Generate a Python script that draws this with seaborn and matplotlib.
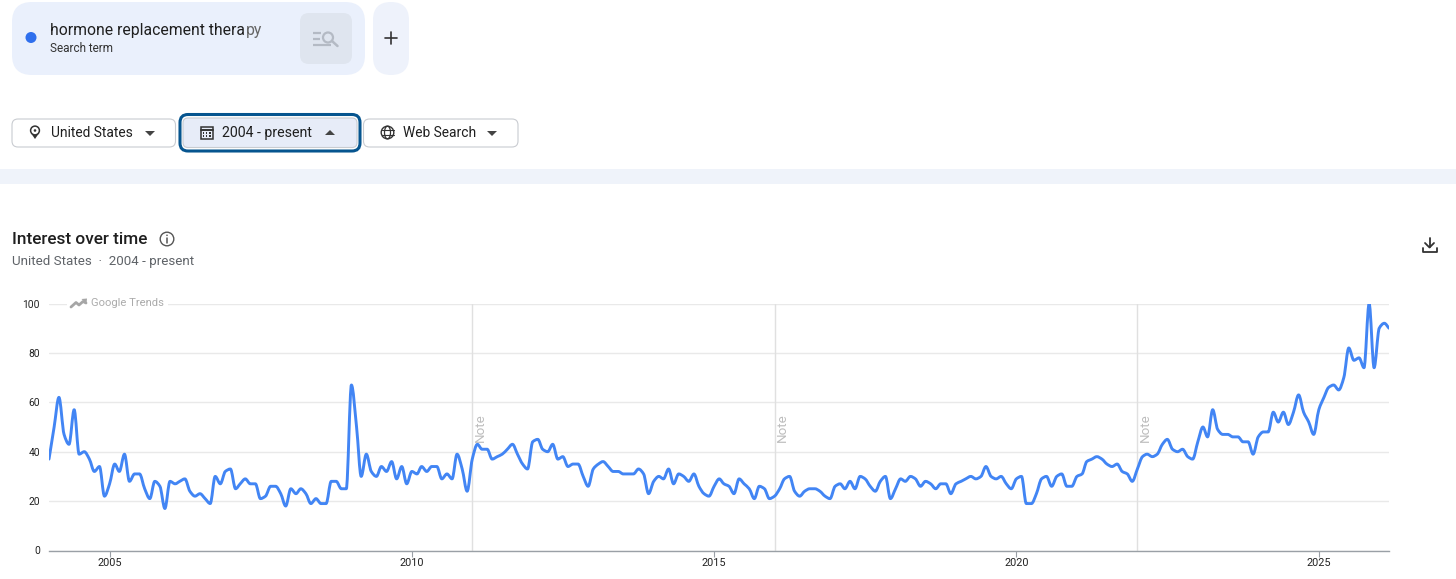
import numpy as np
import pandas as pd
import matplotlib.pyplot as plt
import seaborn as sns
from matplotlib.path import Path
from matplotlib.patches import FancyBboxPatch, Circle, Rectangle, Polygon, Ellipse, PathPatch

# ── Data, monthly values ──
v2004 = [37, 50, 62, 47, 43, 57, 39, 40, 37, 32, 34, 22]
v2005 = [27, 35, 32, 39, 28, 31, 31, 25, 21, 28, 26, 17]
v2006 = [28, 27, 28, 29, 24, 22, 23, 21, 19, 30, 27, 32]
v2007 = [33, 25, 27, 29, 27, 27, 21, 22, 26, 26, 23, 18]
v2008 = [25, 23, 25, 23, 19, 21, 19, 19, 28, 28, 25, 25]
v2009 = [67, 50, 30, 39, 32, 30, 34, 32, 36, 29, 34, 27]
v2010 = [32, 31, 34, 32, 34, 34, 29, 31, 29, 39, 33, 24]
v2011 = [37, 43, 41, 41, 37, 38, 39, 41, 43, 39, 35, 33]
v2012 = [44, 45, 41, 40, 43, 37, 38, 34, 35, 35, 30, 26]
v2013 = [33, 35, 36, 34, 32, 32, 31, 31, 31, 33, 31, 23]
v2014 = [28, 30, 29, 33, 27, 31, 30, 28, 31, 26, 23, 22]
v2015 = [26, 29, 27, 26, 23, 29, 27, 25, 21, 26, 25, 21]
v2016 = [22, 25, 29, 30, 24, 22, 24, 25, 25, 24, 22, 21]
v2017 = [26, 27, 25, 28, 25, 30, 29, 26, 24, 28, 30, 21]
v2018 = [25, 29, 28, 30, 29, 26, 28, 27, 25, 27, 27, 23]
v2019 = [27, 28, 29, 30, 29, 30, 34, 30, 29, 30, 27, 25]
v2020 = [29, 30, 19, 19, 23, 29, 30, 26, 30, 31, 26, 26]
v2021 = [30, 31, 36, 37, 38, 37, 35, 34, 35, 32, 31, 28]
v2022 = [33, 38, 39, 38, 39, 43, 45, 41, 40, 41, 38, 37]
v2023 = [44, 50, 46, 57, 49, 47, 47, 46, 46, 44, 44, 39]
v2024 = [46, 48, 48, 56, 52, 56, 51, 56, 63, 56, 52, 47]
v2025 = [57, 62, 66, 67, 65, 70, 82, 77, 78, 74, 100, 74]
v2026 = [90, 92, 90]

values = (v2004 + v2005 + v2006 + v2007 + v2008 + v2009 + v2010 + v2011
          + v2012 + v2013 + v2014 + v2015 + v2016 + v2017 + v2018 + v2019
          + v2020 + v2021 + v2022 + v2023 + v2024 + v2025 + v2026)
dates = pd.date_range('2004-01-01', periods=len(values), freq='MS')
df = pd.DataFrame({'date': dates, 'interest': values})

year_ticks = ['2005', '2010', '2015', '2020', '2025']
note_years = ['2011', '2016', '2022']
y_ticks = [0, 20, 40, 60, 80, 100]

W, H = 1456, 579
BLUE = '#4285F4'
GRID = '#E9E9E9'
DARK = '#1F1F1F'
GREY = '#5F6368'
CHIP = '#C9CCD1'

sns.set_theme(style='white')
plt.rcParams['font.family'] = ['Roboto', 'DejaVu Sans']

fig = plt.figure(figsize=(W / 100, H / 100), dpi=100, facecolor='white')

# ── Chart area ───────────────────────────────
ax = fig.add_axes([49 / W, 1 - 550.5 / H, (1389 - 49) / W, 247 / H])
sns.lineplot(data=df, x='date', y='interest', color=BLUE, linewidth=2.1, ax=ax, zorder=5)


# the trends line is rounded between months, so redraw seaborn's line as a
# monotone bezier going through exactly the same points
def smooth_path(xy):
    x, y = xy[:, 0], xy[:, 1]
    h = np.diff(x)
    s = np.diff(y) / h
    m = np.zeros(len(y))
    for i in range(1, len(y) - 1):
        if s[i - 1] * s[i] > 0:
            m[i] = 2 * s[i - 1] * s[i] / (s[i - 1] + s[i])
    m[0], m[-1] = s[0], s[-1]
    verts = [(x[0], y[0])]
    codes = [Path.MOVETO]
    for i in range(len(h)):
        verts += [(x[i] + h[i] / 3, y[i] + m[i] * h[i] / 3),
                  (x[i + 1] - h[i] / 3, y[i + 1] - m[i + 1] * h[i] / 3),
                  (x[i + 1], y[i + 1])]
        codes += [Path.CURVE4] * 3
    return Path(verts, codes)


base_line = ax.lines[0]
ax.add_patch(PathPatch(smooth_path(base_line.get_xydata()), fc='none', ec=BLUE, lw=2.1,
                       capstyle='round', joinstyle='round', zorder=5))
base_line.set_visible(False)

ax.set_xlim(dates[0], dates[-1])
ax.set_ylim(0, 100)
ax.set_xlabel('')
ax.set_ylabel('')
sns.despine(ax=ax, left=True, top=True, right=True)
ax.spines['bottom'].set_color('#9AA0A6')
ax.spines['bottom'].set_linewidth(1.0)

ax.set_yticks(y_ticks)
ax.yaxis.grid(True, color=GRID, linewidth=1.0)
ax.set_axisbelow(True)
ax.tick_params(axis='y', length=0, pad=6.5, labelsize=7.4, labelcolor='#222222')
ax.set_xticks(pd.to_datetime(year_ticks))
ax.set_xticklabels(year_ticks)
ax.tick_params(axis='x', length=4, width=0.8, color='#9AA0A6', pad=1.5,
               labelsize=7.8, labelcolor='#222222', bottom=True)

for yr in note_years:
    d = pd.Timestamp(yr + '-01-01')
    ax.axvline(d, color='#E0E0E0', linewidth=1.0, zorder=1)

# ── Overlay in pixel coordinates for the page furniture ──
ui = fig.add_axes([0, 0, 1, 1], zorder=10)
ui.set_xlim(0, W)
ui.set_ylim(H, 0)
ui.axis('off')
ui.patch.set_alpha(0)


def pill(x0, y0, x1, y1, r, fc, ec='none', lw=1.0, z=2):
    ui.add_patch(FancyBboxPatch((x0 + r, y0 + r), x1 - x0 - 2 * r, y1 - y0 - 2 * r,
                                boxstyle=f'round,pad={r},rounding_size={r}',
                                fc=fc, ec=ec, lw=lw, zorder=z))


# search term card
pill(12, 2, 365, 75, 20, '#EAF0FC')
ui.add_patch(Circle((31, 37.5), 5.5, fc='#2F6FED', ec='none', zorder=3))
ui.text(50, 31, 'hormone replacement thera', fontsize=11.3, color=DARK, va='center')
ui.text(246, 31, 'py', fontsize=11.3, color='#666666', va='center')
ui.text(50, 49, 'Search term', fontsize=8.5, color='#333333', va='center')
pill(300, 13, 352, 64, 9, '#DFE5EF', z=3)
for y_, x1_ in [(33, 321), (38.5, 320), (45, 331)]:
    ui.plot([313, x1_], [y_, y_], color='#B4BAC4', lw=1.6, zorder=4, solid_capstyle='butt')
ui.add_patch(Circle((328, 37.5), 5, fc='none', ec='#B4BAC4', lw=1.6, zorder=4))
ui.plot([332, 337.5], [41, 46], color='#B4BAC4', lw=1.8, zorder=4)

# add button
pill(373, 2, 409, 75, 18, '#EEF2FB')
ui.plot([385, 397], [38, 38], color='#333333', lw=1.2, zorder=4)
ui.plot([391, 391], [32, 44], color='#333333', lw=1.2, zorder=4)

# filter chips
pill(12, 119, 175.5, 147, 6, 'white', CHIP, lw=0.8)
ui.add_patch(Polygon([[31.2, 133.5], [38.8, 133.5], [35, 139]], fc='#333333', ec='none', zorder=3))
ui.add_patch(Circle((35, 130.5), 4.4, fc='white', ec='#333333', lw=1.1, zorder=4))
ui.add_patch(Circle((35, 130.5), 1.3, fc='#333333', ec='none', zorder=5))
ui.text(51, 133, 'United States', fontsize=9.9, color=DARK, va='center')
ui.add_patch(Polygon([[145, 131], [155, 131], [150, 136]], fc='#444444', ec='none', zorder=4))

pill(180, 114.5, 360, 151, 8, 'white', '#06558F', lw=2.2, z=2)
pill(183, 118, 357, 147.5, 5, '#E7ECF8', CHIP, lw=0.8, z=3)
ui.add_patch(Rectangle((201, 127), 11.5, 11.5, fc='none', ec='#333333', lw=1.1, zorder=4))
ui.plot([201, 212.5], [130, 130], color='#333333', lw=1.4, zorder=4)
for px in [203.5, 206.7, 210]:
    for py in [133, 136]:
        ui.add_patch(Rectangle((px - 0.7, py - 0.7), 1.4, 1.4, fc='#333333', ec='none', zorder=4))
ui.text(222, 133, '2004 - present', fontsize=10.2, color=DARK, va='center')
ui.add_patch(Polygon([[325, 135], [335, 135], [330, 130]], fc='#444444', ec='none', zorder=4))

pill(363.5, 119, 518, 147, 6, 'white', CHIP, lw=0.8)
ui.add_patch(Circle((387.5, 132.5), 6.3, fc='none', ec='#333333', lw=1.0, zorder=4))
ui.add_patch(Ellipse((387.5, 132.5), 6, 12.6, fc='none', ec='#333333', lw=0.9, zorder=4))
ui.plot([381.5, 393.5], [130.3, 130.3], color='#333333', lw=0.8, zorder=4)
ui.plot([381.5, 393.5], [134.7, 134.7], color='#333333', lw=0.8, zorder=4)
ui.text(403, 133, 'Web Search', fontsize=9.9, color=DARK, va='center')
ui.add_patch(Polygon([[487, 131], [497, 131], [492, 136]], fc='#444444', ec='none', zorder=4))

# band between the filters and the chart
ui.add_patch(Rectangle((0, 169), W, 14.5, fc='#EFF3FA', ec='none', zorder=1))

# heading
ui.text(12, 239.5, 'Interest over time', fontsize=12.4, color=DARK, va='center', fontweight='medium')
ui.add_patch(Circle((167, 239), 6.8, fc='none', ec='#555555', lw=1.0, zorder=4))
ui.plot([167, 167], [238, 243], color='#555555', lw=1.1, zorder=4)
ui.add_patch(Circle((167, 235.3), 0.8, fc='#555555', ec='none', zorder=4))
ui.text(12, 261, 'United States  ·  2004 - present', fontsize=9.65, color=GREY, va='center')

# download icon
ui.plot([1429.5, 1429.5], [238, 247], color='#333333', lw=1.3, zorder=4)
ui.plot([1425, 1429.5, 1434], [243, 247.5, 243], color='#333333', lw=1.3, zorder=4)
ui.plot([1422.5, 1422.5, 1436.5, 1436.5], [248, 252, 252, 248], color='#333333', lw=1.3, zorder=4)

# Google Trends watermark, sits on a gap in the top gridline
ui.add_patch(Rectangle((67, 297), 101, 12, fc='white', ec='none', zorder=2))
ui.plot([71, 76, 79, 83, 86], [307, 302.5, 305, 301.5, 303], color='#A6A6A6', lw=2.0, zorder=3)
ui.add_patch(Polygon([[81.5, 299], [87, 298.5], [86.5, 304]], fc='#A6A6A6', ec='none', zorder=3))
ui.text(91, 303, 'Google Trends', fontsize=8.1, color='#ABABAB', va='center', zorder=3)

# Note labels next to the annotation lines
for x_ in [480.5, 782.5, 1145.5]:
    ui.text(x_, 427.5, 'Note', fontsize=9.6, color='#BDBDBD', rotation=90,
            ha='center', va='center', zorder=3)

fig.savefig('out.png', dpi=100, facecolor='white')
plt.close(fig)
